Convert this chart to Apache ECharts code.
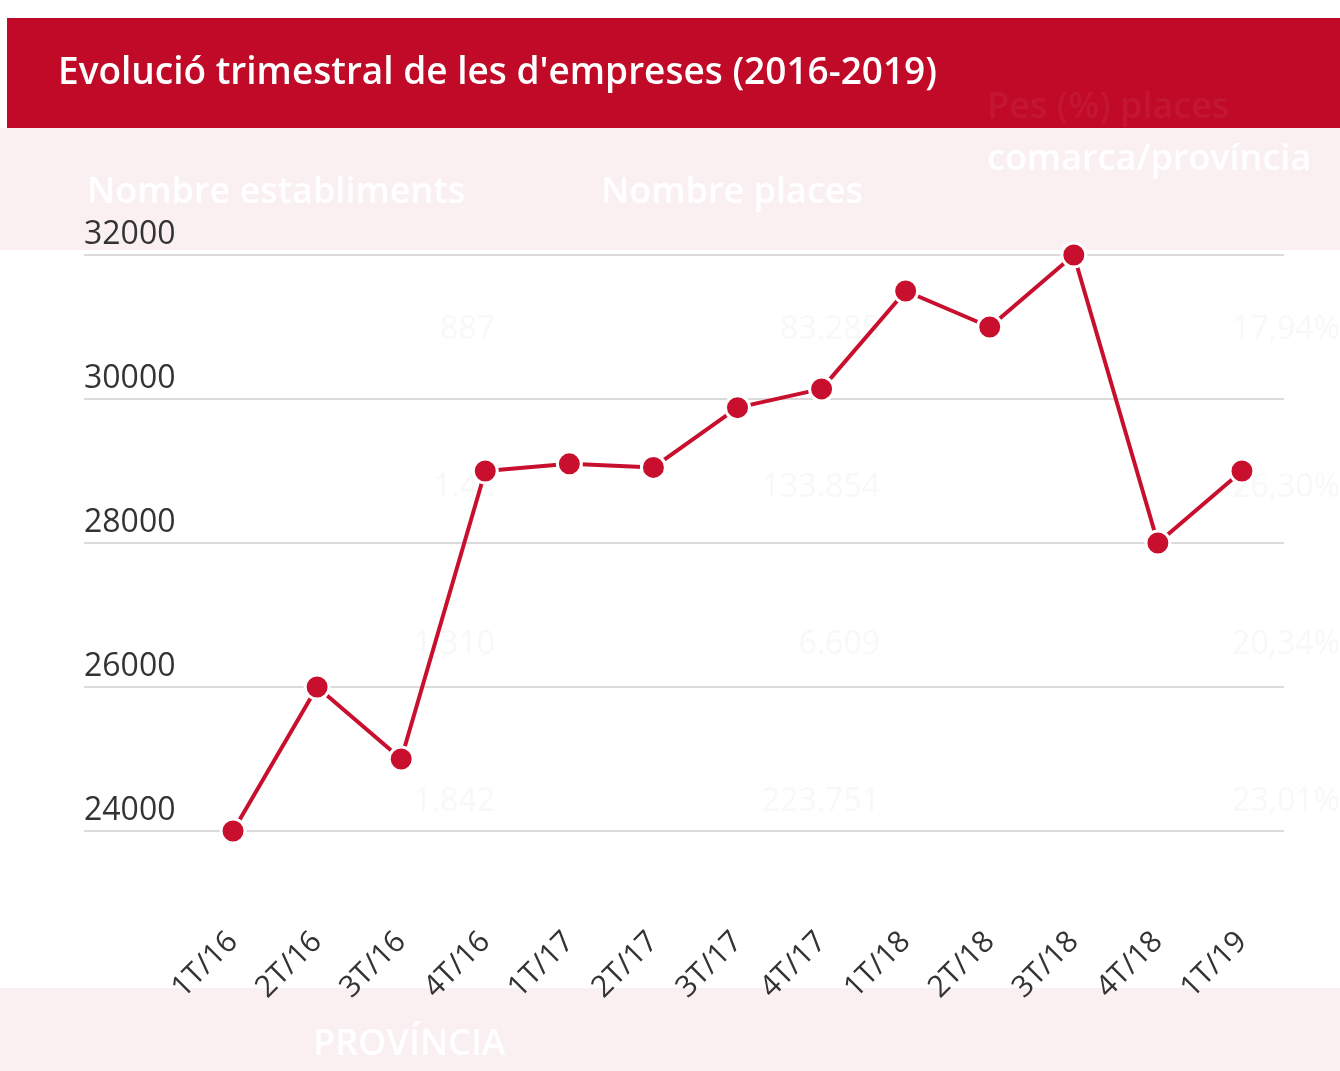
<!DOCTYPE html>
<html>
<head>
<meta charset="utf-8">
<script src="https://cdn.jsdelivr.net/npm/echarts@6/dist/echarts.min.js"></script>
<style>
  html, body { margin: 0; padding: 0; background: #fff; }
  #main { width: 1340px; height: 1071px; }
</style>
</head>
<body>
<div id="main"></div>
<script>
// dades
var quarters = ['1T/16', '2T/16', '3T/16', '4T/16', '1T/17', '2T/17', '3T/17', '4T/17', '1T/18', '2T/18', '3T/18', '4T/18', '1T/19']
var empreses = [24000, 26000, 25000, 29000, 29100, 29050, 29880, 30140, 31500, 31000, 32000, 28000, 29000]
var yMin = 24000
var yMax = 32000
var yStep = 2000

// text de la taula que es veu al fons
var ghostHeaders = ['Nombre establiments', 'Nombre places', 'comarca/província']
var ghostCells = ['887', '83.285', '17,94%', '1.4..', '133.854', '26,30%', '1.310', '6.609', '20,34%', '1.842', '223.751', '23,01%']

var chart = echarts.init(document.getElementById('main'))

var headFont = '600 36px "Open Sans"'
var graphics = [
  { type: 'rect', z: -10, shape: { x: 7, y: 18, width: 1333, height: 110 }, style: { fill: '#c00a27' } },
  { type: 'rect', z: -10, shape: { x: 0, y: 128, width: 1340, height: 122 }, style: { fill: '#faf0f1' } },
  { type: 'rect', z: -10, shape: { x: 0, y: 988, width: 1340, height: 83 }, style: { fill: '#faf0f1' } },
  {
    type: 'text', z: 10, x: 58, y: 73,
    style: { text: 'Evolució trimestral de les d\'empreses (2016-2019)', fill: '#fff', font: '600 37px "Open Sans"', verticalAlign: 'middle' }
  },
  { type: 'text', z: -5, x: 987, y: 108, style: { text: 'Pes (%) places', fill: 'rgba(255,255,255,0.05)', font: headFont, verticalAlign: 'middle' } },
  { type: 'text', z: -5, x: 87, y: 193, style: { text: ghostHeaders[0], fill: '#ffffff', font: headFont, verticalAlign: 'middle' } },
  { type: 'text', z: -5, x: 601, y: 193, style: { text: ghostHeaders[1], fill: '#ffffff', font: headFont, verticalAlign: 'middle' } },
  { type: 'text', z: -5, x: 987, y: 160, style: { text: ghostHeaders[2], fill: '#ffffff', font: headFont, verticalAlign: 'middle' } },
  { type: 'text', z: -5, x: 313, y: 1045, style: { text: 'PROVÍNCIA', fill: '#ffffff', font: headFont, verticalAlign: 'middle' } }
]

var cellCols = [495, 880, 1340]
var cellRows = [330, 488, 645, 802]
ghostCells.forEach(function (t, i) {
  graphics.push({
    type: 'text', z: -5,
    x: cellCols[i % 3], y: cellRows[Math.floor(i / 3)],
    style: { text: t, fill: '#f8f8f8', font: '32px "Open Sans"', align: 'right', verticalAlign: 'middle' }
  })
})

chart.setOption({
  animation: false,
  backgroundColor: '#ffffff',
  graphic: graphics,
  grid: [
    { left: 84, right: 56, top: 255, bottom: 240 },
    { left: 191, right: 56, top: 255, bottom: 240 }
  ],
  xAxis: [
    { gridIndex: 0, type: 'category', show: false, data: [] },
    {
      gridIndex: 1,
      type: 'category',
      data: quarters,
      axisLine: { show: false },
      axisTick: { show: false },
      axisLabel: {
        interval: 0,
        rotate: 45,
        margin: 106,
        fontSize: 30,
        fontFamily: 'Open Sans',
        color: '#333'
      }
    }
  ],
  yAxis: [
    {
      gridIndex: 0,
      type: 'value',
      min: yMin,
      max: yMax,
      interval: yStep,
      axisLine: { show: false },
      axisTick: { show: false },
      splitLine: { lineStyle: { color: '#dadada', width: 2 } },
      axisLabel: {
        inside: true,
        margin: 0,
        verticalAlign: 'bottom',
        padding: [0, 0, 4, 0],
        fontSize: 32,
        fontFamily: 'Open Sans',
        color: '#333',
        formatter: function (v) { return String(v) }
      }
    },
    { gridIndex: 1, type: 'value', min: yMin, max: yMax, show: false, splitLine: { show: false } }
  ],
  series: [
    {
      name: 'Empreses',
      type: 'line',
      xAxisIndex: 1,
      yAxisIndex: 1,
      data: empreses,
      symbol: 'circle',
      symbolSize: 24,
      color: '#c8102e',
      lineStyle: { width: 4, color: '#c8102e' },
      itemStyle: { color: '#c8102e', borderColor: '#fff', borderWidth: 3 }
    }
  ]
})
</script>
</body>
</html>
